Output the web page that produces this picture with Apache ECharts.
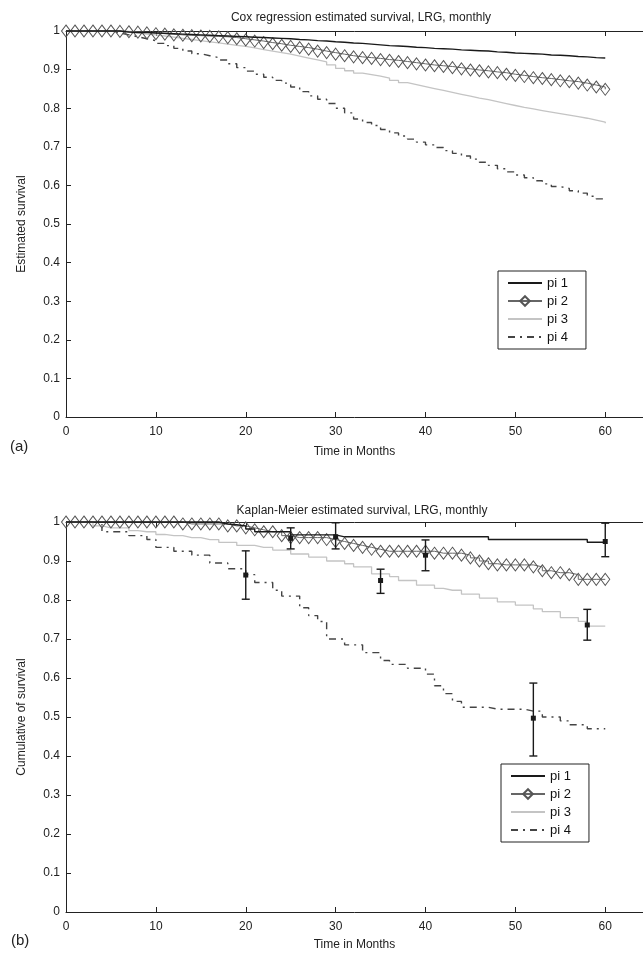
<!DOCTYPE html>
<html>
<head>
<meta charset="utf-8">
<script src="https://cdn.jsdelivr.net/npm/echarts@6/dist/echarts.min.js"></script>
<style>
  html, body { margin: 0; padding: 0; background: #fff; }
  #chart { width: 643px; height: 956px; }
</style>
</head>
<body>
<div id="chart"></div>
<script>
// ── monthly time points ──
const months = [0,1,2,3,4,5,6,7,8,9,10,11,12,13,14,15,16,17,18,19,20,21,22,23,24,25,26,27,28,29,30,
  31,32,33,34,35,36,37,38,39,40,41,42,43,44,45,46,47,48,49,50,51,52,53,54,55,56,57,58,59,60];
const xTicks = [0, 10, 20, 30, 40, 50, 60];
const seriesNames = ["pi 1", "pi 2", "pi 3", "pi 4"];

// ── (a) Cox regression estimated survival ──
const coxPi1 = [1,1,1,1,1,1,.997,.996,.996,.995,.994,.993,.992,.991,.990,.989,.988,.987,.986,.985,.984,
  .983,.982,.981,.980,.978,.977,.975,.974,.972,.971,.969,.968,.966,.964,.962,.961,.960,.958,.957,.955,
  .954,.953,.951,.950,.949,.948,.946,.945,.943,.942,.941,.940,.938,.937,.936,.934,.933,.931,.930,.929];
const coxPi2 = [1,1,1,1,1,1,.999,.998,.997,.995,.993,.992,.990,.989,.988,.987,.986,.985,.983,.980,.977,
  .974,.970,.967,.963,.960,.957,.953,.948,.944,.940,.936,.933,.931,.929,.926,.924,.921,.918,.915,.912,
  .910,.908,.905,.902,.899,.897,.894,.892,.888,.885,.882,.879,.877,.874,.871,.869,.865,.860,.855,.849];
const coxPi3 = [1,1,1,1,1,1,.997,.995,.992,.990,.987,.984,.981,.978,.975,.972,.969,.966,.963,.960,.956,
  .952,.948,.944,.940,.935,.930,.925,.920,.912,.903,.897,.891,.887,.883,.878,.872,.866,.861,.856,.851,
  .846,.841,.836,.831,.826,.822,.817,.812,.807,.802,.798,.794,.790,.786,.782,.778,.774,.769,.764,.761];
const coxPi4 = [1,1,1,1,1,.995,.990,.985,.980,.975,.968,.962,.955,.948,.941,.936,.931,.925,.915,.905,.896,
  .888,.880,.872,.865,.855,.843,.832,.823,.812,.800,.788,.772,.763,.755,.745,.736,.728,.720,.712,.705,
  .698,.690,.683,.676,.668,.660,.652,.643,.635,.627,.620,.612,.604,.597,.592,.586,.580,.572,.565,.560];

// ── (b) Kaplan-Meier estimated survival ──
const kmPi1 = [1,1,1,1,1,1,1,1,1,1,1,1,1,1,1,1,1,.995,.993,.990,.982,.975,.975,.975,.975,
  .967,.967,.967,.967,.967,.962,.962,.962,.962,.962,.962,.962,.962,.962,.962,.962,.962,.962,.962,.962,.962,.962,
  .955,.955,.955,.955,.955,.955,.955,.955,.955,.955,.955,.948,.948,.948];
const kmPi2 = [1,1,1,1,1,1,1,1,1,1,1,1,1,.995,.995,.995,.995,.995,.990,.990,.985,.980,.975,.975,.965,
  .960,.960,.960,.960,.955,.950,.945,.940,.935,.930,.925,.925,.925,.925,.925,.925,.920,.920,.920,.915,
  .908,.900,.893,.890,.890,.890,.890,.885,.875,.870,.870,.865,.853,.853,.853,.853];
const kmPi3 = [1,1,1,.990,.985,.985,.985,.978,.975,.975,.968,.965,.965,.960,.960,.955,.955,.948,.948,.940,.940,
  .935,.935,.928,.928,.918,.918,.910,.910,.900,.900,.893,.885,.885,.867,.867,.860,.850,.850,.838,.838,
  .830,.825,.825,.815,.815,.805,.805,.795,.795,.787,.787,.777,.770,.770,.755,.755,.745,.733,.733,.733];
const kmPi4 = [1,1,1,1,.975,.975,.975,.965,.965,.955,.935,.935,.925,.925,.915,.915,.895,.895,.880,.880,.865,
  .845,.845,.825,.810,.810,.780,.760,.745,.700,.700,.685,.685,.665,.665,.645,.635,.635,.625,.625,.610,
  .580,.560,.540,.525,.525,.525,.520,.520,.520,.520,.515,.515,.500,.500,.490,.480,.480,.470,.470,.470];

// ── KM 95% error bars ──
const errT   = [20,    25,    30,    35,    40,    52,    58,    60];
const errMid = [0.864, 0.958, 0.962, 0.850, 0.915, 0.497, 0.736, 0.950];
const errLo  = [0.802, 0.931, 0.931, 0.817, 0.875, 0.400, 0.697, 0.911];
const errHi  = [0.926, 0.985, 0.998, 0.879, 0.954, 0.587, 0.776, 0.997];

const FONT = "'Liberation Sans', Arial, sans-serif";
const INK = "#222";
const X_MAX = 64.2; // figure is cropped on the right, just past 64 months

// per-curve look, shared by both panels
const looks = [
  { symbol: "none", itemStyle: { color: "#1a1a1a" }, lineStyle: { color: "#1a1a1a", width: 1.4 } },
  { symbol: "diamond", symbolSize: [9, 12], showSymbol: true,
    itemStyle: { color: "rgba(255,255,255,0)", borderColor: "#555", borderWidth: 1 },
    lineStyle: { color: "#666", width: 1 } },
  { symbol: "none", itemStyle: { color: "#c4c4c4" }, lineStyle: { color: "#c4c4c4", width: 1.3 } },
  { symbol: "none", itemStyle: { color: "#444" }, lineStyle: { color: "#444", width: 1.4, type: [7, 5, 2, 5] } },
];

function pairs(vals) { return months.map((t, i) => [t, vals[i]]); }

function curve(name, vals, k, xi, yi) {
  return Object.assign({
    name, type: "line", step: "end", data: pairs(vals),
    xAxisIndex: xi, yAxisIndex: yi, clip: false, animation: false, z: 3 + (3 - k),
  }, looks[k]);
}

function xAxes(grid, gap) {
  const base = {
    gridIndex: grid, type: "value", min: 0, max: X_MAX, interval: 10,
    axisLine: { show: true, lineStyle: { color: INK, width: 1 } },
    axisTick: { show: true, inside: true, length: 5, customValues: xTicks, lineStyle: { color: INK } },
    splitLine: { show: false },
  };
  return [
    Object.assign({}, base, {
      position: "bottom",
      axisLabel: { margin: 9, fontFamily: FONT, fontSize: 12, color: INK, customValues: xTicks },
      name: "Time in Months", nameLocation: "middle", nameGap: gap,
      nameTextStyle: { fontFamily: FONT, fontSize: 12, color: INK },
    }),
    Object.assign({}, base, { position: "top", axisLabel: { show: false } }),
  ];
}

function yAxis(grid, name) {
  return {
    gridIndex: grid, type: "value", min: 0, max: 1, interval: 0.1,
    axisLine: { show: true, lineStyle: { color: INK, width: 1 } },
    axisTick: { show: true, inside: true, length: 5, lineStyle: { color: INK } },
    axisLabel: { margin: 6, fontFamily: FONT, fontSize: 12, color: INK,
      formatter: (v) => String(Math.round(v * 10) / 10) },
    splitLine: { show: false },
    name, nameLocation: "middle", nameGap: 38,
    nameTextStyle: { fontFamily: FONT, fontSize: 12, color: INK },
  };
}

// line-only curves get no marker in the legend
const hideMark = { color: "rgba(0,0,0,0)", borderWidth: 0, opacity: 0 };
function legendAt(left, top) {
  return {
    left, top, orient: "vertical", selectedMode: false,
    data: [
      { name: "pi 1", itemStyle: hideMark },
      { name: "pi 2" },
      { name: "pi 3", itemStyle: hideMark },
      { name: "pi 4", itemStyle: hideMark },
    ],
    itemWidth: 34, itemHeight: 12, itemGap: 4, padding: [5, 18, 5, 9],
    borderColor: INK, borderWidth: 1, backgroundColor: "#fff",
    textStyle: { fontFamily: FONT, fontSize: 13, color: "#111", lineHeight: 14 },
  };
}

const errorBars = {
  type: "custom", name: "errors", xAxisIndex: 2, yAxisIndex: 1, z: 10, animation: false,
  data: errT.map((t, i) => [t, errMid[i], errLo[i], errHi[i]]),
  renderItem(params, api) {
    const t = api.value(0);
    const mid = api.coord([t, api.value(1)]);
    const lo = api.coord([t, api.value(2)]);
    const hi = api.coord([t, api.value(3)]);
    const st = { stroke: "#1a1a1a", lineWidth: 1.4 };
    return { type: "group", children: [
      { type: "line", shape: { x1: hi[0], y1: hi[1], x2: lo[0], y2: lo[1] }, style: st },
      { type: "line", shape: { x1: hi[0] - 4, y1: hi[1], x2: hi[0] + 4, y2: hi[1] }, style: st },
      { type: "line", shape: { x1: lo[0] - 4, y1: lo[1], x2: lo[0] + 4, y2: lo[1] }, style: st },
      { type: "rect", shape: { x: mid[0] - 2.5, y: mid[1] - 2.5, width: 5, height: 5 },
        style: { fill: "#1a1a1a" } },
    ] };
  },
};

const chart = echarts.init(document.getElementById("chart"), null, { renderer: "canvas" });
chart.setOption({
  backgroundColor: "#fff",
  animation: false,
  title: [
    { text: "Cox regression estimated survival, LRG, monthly", left: 356, top: 7, textAlign: "center",
      textStyle: { fontFamily: FONT, fontSize: 12, fontWeight: "normal", color: INK } },
    { text: "Kaplan-Meier estimated survival, LRG, monthly", left: 357, top: 500, textAlign: "center",
      textStyle: { fontFamily: FONT, fontSize: 12, fontWeight: "normal", color: INK } },
  ],
  grid: [
    { left: 66, top: 31, right: 0, height: 386 },
    { left: 66, top: 522, right: 0, height: 390 },
  ],
  xAxis: [...xAxes(0, 29), ...xAxes(1, 27)],
  yAxis: [yAxis(0, "Estimated survival"), yAxis(1, "Cumulative of survival")],
  legend: [legendAt(498, 271), legendAt(501, 764)],
  graphic: [
    { type: "text", left: 10, top: 439, style: { text: "(a)", font: "15px " + FONT, fill: INK } },
    { type: "text", left: 11, top: 933, style: { text: "(b)", font: "15px " + FONT, fill: INK } },
  ],
  series: [
    curve("pi 1", coxPi1, 0, 0, 0),
    curve("pi 2", coxPi2, 1, 0, 0),
    curve("pi 3", coxPi3, 2, 0, 0),
    curve("pi 4", coxPi4, 3, 0, 0),
    curve("pi 1", kmPi1, 0, 2, 1),
    curve("pi 2", kmPi2, 1, 2, 1),
    curve("pi 3", kmPi3, 2, 2, 1),
    curve("pi 4", kmPi4, 3, 2, 1),
    errorBars,
  ],
});
</script>
</body>
</html>
